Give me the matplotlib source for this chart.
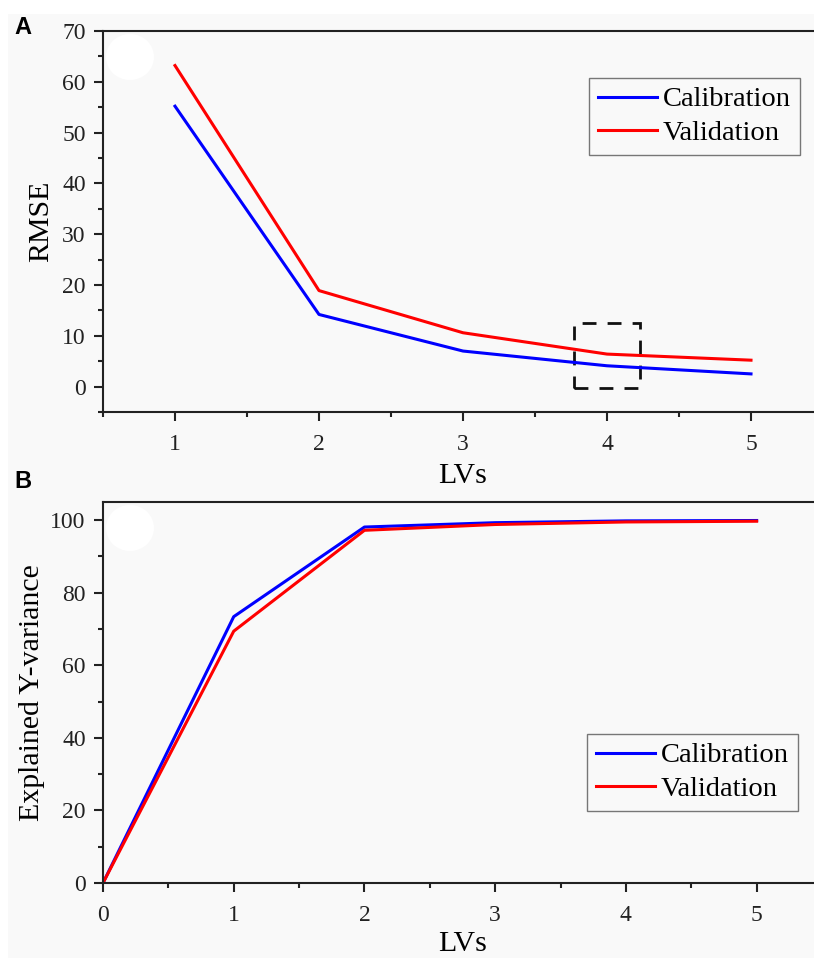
import matplotlib
matplotlib.use('Agg')
from matplotlib import pyplot as plt
from matplotlib.patches import Rectangle, Ellipse
from matplotlib.ticker import MultipleLocator

# panel A: RMSE against number of latent variables
lvs_a = [1, 2, 3, 4, 5]
rmse_cal = [55.2, 14.2, 7.0, 4.1, 2.5]
rmse_val = [63.2, 18.9, 10.6, 6.4, 5.2]

# panel B: explained Y-variance (%)
lvs_b = [0, 1, 2, 3, 4, 5]
var_cal = [0, 73.4, 98.1, 99.3, 99.8, 99.9]
var_val = [0, 69.4, 97.2, 98.8, 99.5, 99.7]

series_names = ['Calibration', 'Validation']
series_colors = ['#0000ff', '#ff0000']

W, H = 814, 958
BG = '#f9f9f9'
SERIF = ['Liberation Serif', 'DejaVu Serif']

plt.rcParams['font.family'] = SERIF
plt.rcParams['xtick.direction'] = 'out'
plt.rcParams['ytick.direction'] = 'out'

fig = plt.figure(figsize=(W / 100, H / 100), dpi=100, facecolor='white')
fig.patches.append(Rectangle((8 / W, 0), 1, 1 - 14 / H, transform=fig.transFigure,
                             facecolor=BG, edgecolor='none', zorder=-10))


def px_box(left, top, right, bottom):
    return [left / W, 1 - bottom / H, (right - left) / W, (bottom - top) / H]


def style_axes(ax):
    ax.set_facecolor(BG)
    for s in ['left', 'bottom', 'top', 'right']:
        ax.spines[s].set_linewidth(1.5)
        ax.spines[s].set_color('#222222')
    ax.tick_params(axis='y', which='major', pad=6)
    ax.tick_params(axis='x', which='major', pad=9)
    ax.tick_params(which='major', length=6.5, width=1.5, labelsize=17, colors='#222222')
    ax.tick_params(which='minor', length=3.3, width=1.5, colors='#222222')
    ax.tick_params(top=False, right=False)


def add_legend(ax, x0, y0):
    leg = ax.legend(loc='upper left', bbox_to_anchor=(x0 / W, 1 - y0 / H),
                    bbox_transform=fig.transFigure, borderaxespad=0,
                    fontsize=20.5, handlelength=2.1, handletextpad=0.2,
                    labelspacing=0.28, borderpad=0.3, fancybox=False, frameon=True)
    leg.get_frame().set_edgecolor('#777777')
    leg.get_frame().set_linewidth(1.0)
    leg.get_frame().set_facecolor(BG)
    leg.get_frame().set_alpha(1)
    return leg


# ---------- A ----------
axA = fig.add_axes(px_box(103, 31, 823, 412))
style_axes(axA)
axA.plot(lvs_a, rmse_cal, color=series_colors[0], lw=2.2, label=series_names[0])
axA.plot(lvs_a, rmse_val, color=series_colors[1], lw=2.2, label=series_names[1])
axA.set_xlim(0.5, 5.5)
axA.set_ylim(-5, 70)
axA.xaxis.set_major_locator(MultipleLocator(1))
axA.xaxis.set_minor_locator(MultipleLocator(0.5))
axA.yaxis.set_major_locator(MultipleLocator(10))
axA.yaxis.set_minor_locator(MultipleLocator(5))
axA.set_xticks([1, 2, 3, 4, 5])
axA.set_xlabel('LVs', fontsize=21.5, labelpad=6)
axA.set_ylabel('RMSE', fontsize=21.5, labelpad=6)
axA.add_patch(Rectangle((3.77, -0.3), 0.46, 12.8, fill=False, edgecolor='#111111',
                        lw=2, linestyle=(0, (5, 4))))
add_legend(axA, 589, 78)

# ---------- B ----------
axB = fig.add_axes(px_box(103, 502, 822, 883))
style_axes(axB)
axB.plot(lvs_b, var_cal, color=series_colors[0], lw=2.2, label=series_names[0])
axB.plot(lvs_b, var_val, color=series_colors[1], lw=2.2, label=series_names[1])
axB.set_xlim(0, 5.5)
axB.set_ylim(0, 105)
axB.xaxis.set_major_locator(MultipleLocator(1))
axB.xaxis.set_minor_locator(MultipleLocator(0.5))
axB.yaxis.set_major_locator(MultipleLocator(20))
axB.yaxis.set_minor_locator(MultipleLocator(10))
axB.set_xticks([0, 1, 2, 3, 4, 5])
axB.set_xlabel('LVs', fontsize=21.5, labelpad=4)
axB.set_ylabel('Explained Y-variance', fontsize=21.5, labelpad=4)
add_legend(axB, 587, 734)

# white blobs in the upper-left of each panel
for cy in [57, 528]:
    fig.patches.append(Ellipse((130 / W, 1 - cy / H), 48 / W, 46 / H,
                               transform=fig.transFigure, facecolor='white',
                               edgecolor='none', zorder=5))

# panel letters
fig.text(14 / W, 1 - 27 / H, 'A', fontsize=17, fontweight='bold',
         family=['Liberation Sans', 'DejaVu Sans'], va='center', ha='left')
fig.text(14 / W, 1 - 481 / H, 'B', fontsize=17, fontweight='bold',
         family=['Liberation Sans', 'DejaVu Sans'], va='center', ha='left')

fig.savefig('out.png', dpi=100, facecolor='white')
